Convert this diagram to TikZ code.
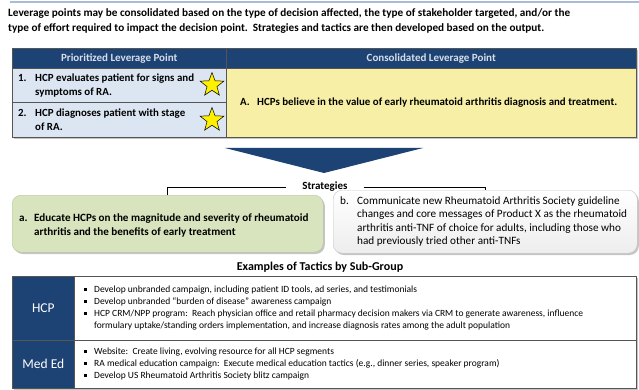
\documentclass[tikz,border=0pt]{standalone}
\usepackage{fontspec}
\setmainfont{Carlito}
\usetikzlibrary{shadows,shapes.geometric}
\definecolor{navy}{HTML}{1D4374}
\definecolor{lightblue}{HTML}{DCE6F2}
\definecolor{paleyellow}{HTML}{F7EFA5}
\definecolor{palegreen}{HTML}{D7E4BD}
\definecolor{topline}{HTML}{A9BCD6}
\definecolor{bordergrey}{HTML}{555555}
\definecolor{stargold}{HTML}{FFF000}
\definecolor{hdrtext}{HTML}{D8DEE9}
\newcommand{\sqb}{\makebox[10pt][l]{\raisebox{2pt}{\rule{2.6pt}{2.6pt}}}}
\newcommand{\ind}{\hspace*{10pt}}
\begin{document}
\begin{tikzpicture}[x=1pt,y=-1pt,
  hdr/.style={fill=navy,draw=bordergrey,line width=0.5pt,text=hdrtext,font=\bfseries\fontsize{11}{12}\selectfont,anchor=north west,inner sep=0pt,minimum height=20pt},
  cellbox/.style={draw=bordergrey,line width=0.6pt,anchor=north west,inner sep=0pt},
  celltext/.style={anchor=west,align=left,inner sep=0pt,font=\bfseries\fontsize{10.9}{13.5}\selectfont},
  tactic/.style={anchor=west,align=left,inner sep=0pt,font=\fontsize{9.5}{12}\selectfont},
  grp/.style={fill=navy,draw=bordergrey,line width=0.6pt,anchor=north west,inner sep=0pt,text=white,font=\fontsize{13.5}{15}\selectfont},
  shad/.style={drop shadow={opacity=0.45,shadow xshift=1.6pt,shadow yshift=-1.8pt}},
  starnode/.style={star,star points=5,star point ratio=2.4,minimum size=25pt,inner sep=0pt,fill=stargold,draw=black,line width=0.5pt}
]
\useasboundingbox[fill=white] (0,0) rectangle (639,390);
% top rule
\draw[topline,line width=1.2pt] (10,2) -- (639,2);
% heading
\node[anchor=north west,align=left,inner sep=0pt,font=\bfseries\fontsize{11.2}{15}\selectfont] (head) at (8,8)
  {Leverage points may be consolidated based on the type of decision affected, the type of stakeholder targeted, and/or the\\
   type of effort required to impact the decision point.\ \ Strategies and tactics are then developed based on the output.};
% ---------- table 1 ----------
\node[cellbox,shad,fill=white,minimum width=624pt,minimum height=89pt] (tab1) at (12,48) {};
\node[hdr,minimum width=214pt] (h1) at (12,48) {Prioritized Leverage Point};
\node[hdr,minimum width=410pt] (h2) at (226,48) {Consolidated Leverage Point};
\node[cellbox,fill=lightblue,minimum width=214pt,minimum height=34pt] (r1) at (12,68) {};
\node[cellbox,fill=lightblue,minimum width=214pt,minimum height=35pt] (r2) at (12,102) {};
\node[cellbox,fill=paleyellow,minimum width=410pt,minimum height=69pt] (ra) at (226,68) {};
\node[celltext] (t1) at ([xshift=6pt]r1.west)
  {\makebox[17pt][l]{1.}HCP evaluates patient for signs and\\\makebox[17pt][l]{}symptoms of RA.};
\node[celltext] (t2) at ([xshift=6pt]r2.west)
  {\makebox[17pt][l]{2.}HCP diagnoses patient with stage\\\makebox[17pt][l]{}of RA.};
\node[celltext] (ta) at ([xshift=14pt]ra.west)
  {\makebox[17pt][l]{A.}HCPs believe in the value of early rheumatoid arthritis diagnosis and treatment.};
% stars
\node[starnode] (s1) at (212,85) {};
\node[starnode] (s2) at (212,120) {};
% triangle
\fill[navy] (225,148) -- (423,148) -- (324,173) -- cycle;
% strategies
\node[inner sep=0pt,font=\bfseries\fontsize{11}{12}\selectfont,fill=white] (strat) at (325,187) {\hspace*{16pt}Strategies\hspace*{16pt}};
\node[draw=palegreen!85!black,fill=palegreen,rounded corners=9pt,shad,minimum width=311pt,minimum height=57pt,anchor=north west,inner sep=0pt] (sa) at (12,195) {};
\node[draw=black!22,top color=white,bottom color=black!7,rounded corners=9pt,shad,minimum width=304pt,minimum height=63pt,anchor=north west,inner sep=0pt] (sb) at (333,190) {};
\draw[line width=0.6pt] (strat.west) -| (sa.north);
\draw[line width=0.6pt] (strat.east) -| (sb.north);
\node[anchor=west,align=left,inner sep=0pt,font=\bfseries\fontsize{11.1}{14}\selectfont] (ta2) at ([xshift=7pt,yshift=-2pt]sa.west)
  {\makebox[15pt][l]{a.}Educate HCPs on the magnitude and severity of rheumatoid\\\makebox[15pt][l]{}arthritis and the benefits of early treatment};
\node[anchor=west,align=left,inner sep=0pt,font=\fontsize{11.2}{13.5}\selectfont] (tb2) at ([xshift=7pt]sb.west)
  {\makebox[17pt][l]{b.}Communicate new Rheumatoid Arthritis Society guideline\\
   \makebox[17pt][l]{}changes and core messages of Product X as the rheumatoid\\
   \makebox[17pt][l]{}arthritis anti-TNF of choice for adults, including those who\\
   \makebox[17pt][l]{}had previously tried other anti-TNFs};
% examples
\node[inner sep=0pt,font=\bfseries\fontsize{12}{13}\selectfont] (ex) at (320,267) {Examples of Tactics by Sub-Group};
% ---------- tactics table ----------
\node[cellbox,shad,fill=white,minimum width=624pt,minimum height=112pt] (tab2) at (12,276) {};
\node[grp,minimum width=62pt,minimum height=64pt] (g1) at (12,276) {HCP};
\node[grp,minimum width=62pt,minimum height=48pt] (g2) at (12,340) {Med Ed};
\node[cellbox,minimum width=562pt,minimum height=64pt] (c1) at (74,276) {};
\node[cellbox,minimum width=562pt,minimum height=48pt] (c2) at (74,340) {};
\node[tactic] (l1) at ([xshift=10pt]c1.west)
  {\sqb Develop unbranded campaign, including patient ID tools, ad series, and testimonials\\
   \sqb Develop unbranded ``burden of disease'' awareness campaign\\
   \sqb HCP CRM/NPP program:\ \ Reach physician office and retail pharmacy decision makers via CRM to generate awareness, influence\\
   \ind formulary uptake/standing orders implementation, and increase diagnosis rates among the adult population};
\node[tactic] (l2) at ([xshift=10pt]c2.west)
  {\sqb Website:\ \ Create living, evolving resource for all HCP segments\\
   \sqb RA medical education campaign:\ \ Execute medical education tactics (e.g., dinner series, speaker program)\\
   \sqb Develop US Rheumatoid Arthritis Society blitz campaign};
\end{tikzpicture}
\end{document}
